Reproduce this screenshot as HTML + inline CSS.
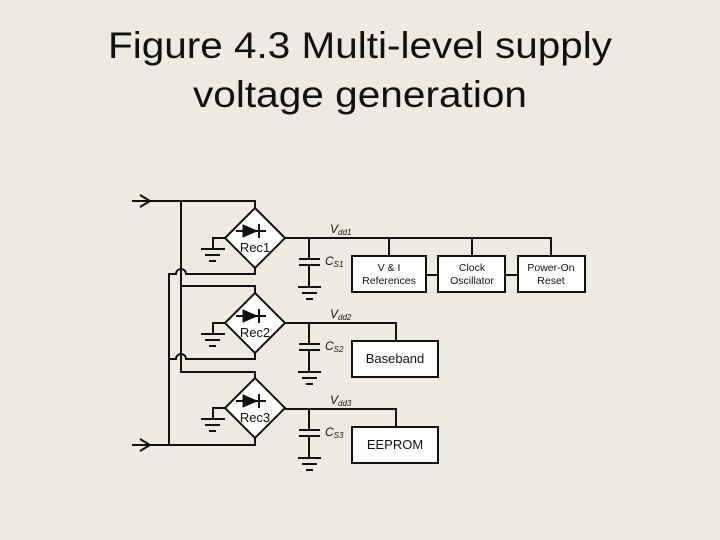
<!DOCTYPE html>
<html><head><style>
html,body{margin:0;padding:0;background:#EDEAE1;}
svg{display:block}
</style></head><body>
<svg width="720" height="540" viewBox="0 0 720 540" xmlns="http://www.w3.org/2000/svg">
<rect width="720" height="540" fill="#EDEAE1"/>
<g font-family="Liberation Sans, sans-serif" fill="#111">
<text x="360" y="58" font-size="37" text-anchor="middle" textLength="504" lengthAdjust="spacingAndGlyphs">Figure 4.3 Multi-level supply</text>
<text x="360" y="107" font-size="37" text-anchor="middle" textLength="334" lengthAdjust="spacingAndGlyphs">voltage generation</text>
</g>
<g stroke="#111" stroke-width="2" fill="none">
<!-- inputs -->
<path d="M132 201 H255 V208"/>
<path d="M140 195 L150 201 L140 207"/>
<path d="M132 445 H255 V438"/>
<path d="M140 439 L150 445 L140 451"/>
<!-- vertical left rails -->
<path d="M181 201 V372 H255 V378"/>
<path d="M181 286 H255 V293"/>
<path d="M169 445 V274 H176 A5 5 0 0 1 186 274 H255 V267"/>
<path d="M169 359 H176 A5 5 0 0 1 186 359 H255 V353"/>
</g>
<!-- rectifiers -->
<g id="rec">
</g>
<g stroke="#111" stroke-width="2" fill="#fff">
<polygon points="255,208 285,238 255,268 225,238"/>
<polygon points="255,293 285,323 255,353 225,323"/>
<polygon points="255,378 285,408 255,438 225,408"/>
</g>
<g fill="#111" stroke="#111" stroke-width="2">
<polygon points="243,225 257,231 243,237" stroke-width="1"/>
<path d="M259 224 V238 M236 231 H266"/>
<polygon points="243,310 257,316 243,322" stroke-width="1"/>
<path d="M259 309 V323 M236 316 H266"/>
<polygon points="243,395 257,401 243,407" stroke-width="1"/>
<path d="M259 394 V408 M236 401 H266"/>
</g>
<g font-family="Liberation Sans, sans-serif" font-size="13" fill="#111" text-anchor="middle">
<text x="255" y="252">Rec1</text>
<text x="255" y="337">Rec2</text>
<text x="255" y="422">Rec3</text>
</g>
<!-- left grounds -->
<g stroke="#111" stroke-width="2" fill="none">
<path d="M225 238 H213 V249 M201 249 H225 M205 255 H220 M209 261 H216"/>
<path d="M225 323 H213 V334 M201 334 H225 M205 340 H220 M209 346 H216"/>
<path d="M225 408 H213 V419 M201 419 H225 M205 425 H220 M209 431 H216"/>
</g>
<!-- right side -->
<g stroke="#111" stroke-width="2" fill="none">
<path d="M285 238 H551 V256 M389 238 V256 M472 238 V256"/>
<path d="M309 238 V259 M299 259 H320 M299 265 H320 M309 265 V287 M298 287 H321 M302 293 H317 M306 299 H313"/>
<path d="M285 323 H396 V341"/>
<path d="M309 323 V344 M299 344 H320 M299 350 H320 M309 350 V372 M298 372 H321 M302 378 H317 M306 384 H313"/>
<path d="M285 409 H396 V427"/>
<path d="M309 409 V430 M299 430 H320 M299 436 H320 M309 436 V458 M298 458 H321 M302 464 H317 M306 470 H313"/>
<path d="M426 275 H438 M505 275 H518"/>
</g>
<g stroke="#111" stroke-width="2" fill="#fff">
<rect x="352" y="256" width="74" height="36"/>
<rect x="438" y="256" width="67" height="36"/>
<rect x="518" y="256" width="67" height="36"/>
<rect x="352" y="341" width="86" height="36"/>
<rect x="352" y="427" width="86" height="36"/>
</g>
<g font-family="Liberation Sans, sans-serif" fill="#111" text-anchor="middle" font-size="10.5">
<text x="389" y="271">V &amp; I</text>
<text x="389" y="284">References</text>
<text x="472" y="271">Clock</text>
<text x="472" y="284">Oscillator</text>
<text x="551" y="271">Power-On</text>
<text x="551" y="284">Reset</text>
<text x="395" y="363" font-size="13">Baseband</text>
<text x="395" y="449" font-size="13">EEPROM</text>
</g>
<g font-family="Liberation Sans, sans-serif" fill="#111" font-style="italic">
<text x="330" y="233" font-size="12">V<tspan font-size="8" dy="2">dd1</tspan></text>
<text x="330" y="318" font-size="12">V<tspan font-size="8" dy="2">dd2</tspan></text>
<text x="330" y="404" font-size="12">V<tspan font-size="8" dy="2">dd3</tspan></text>
<text x="325" y="265" font-size="12">C<tspan font-size="8" dy="2">S1</tspan></text>
<text x="325" y="350" font-size="12">C<tspan font-size="8" dy="2">S2</tspan></text>
<text x="325" y="436" font-size="12">C<tspan font-size="8" dy="2">S3</tspan></text>
</g>
</svg>
</body></html>
